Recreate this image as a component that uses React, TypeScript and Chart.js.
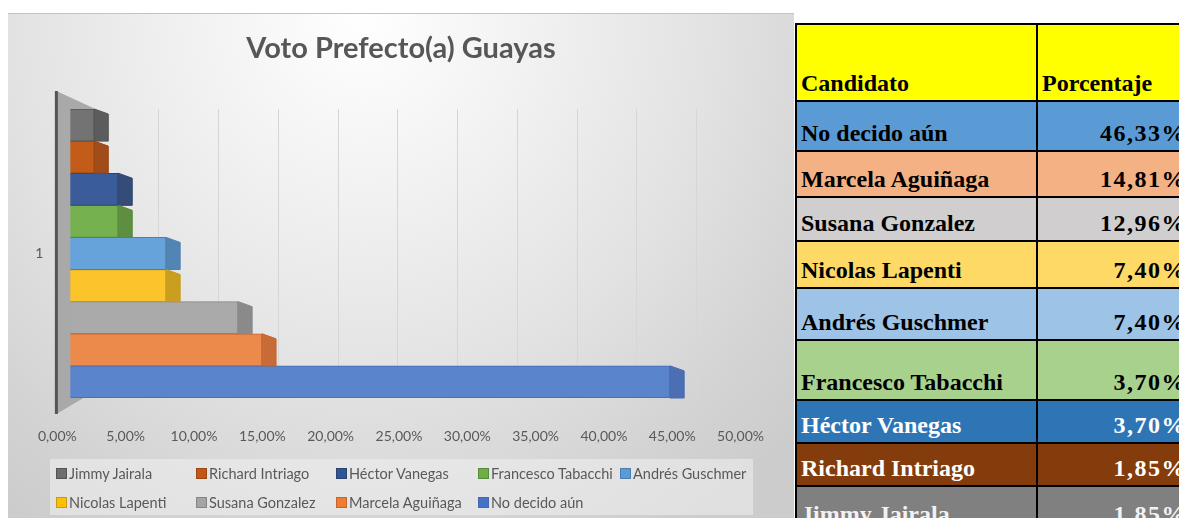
import React, { useEffect, useRef } from 'react';
import { Chart, registerables } from 'chart.js';

Chart.register(...registerables);

// ---------- data ----------
const chartTitle = 'Voto Prefecto(a) Guayas';
const categories = ['1'];
const candidates = [
  'Jimmy Jairala',
  'Richard Intriago',
  'Héctor Vanegas',
  'Francesco Tabacchi',
  'Andrés Guschmer',
  'Nicolas Lapenti',
  'Susana Gonzalez',
  'Marcela Aguiñaga',
  'No decido aún',
];
const percentages = [1.85, 1.85, 3.7, 3.7, 7.4, 7.4, 12.96, 14.81, 46.33];
const xTickValues = [0, 5, 10, 15, 20, 25, 30, 35, 40, 45, 50];
const gridValues = [5, 10, 15, 20, 25, 30, 35, 40, 45, 50];
const tableHeader = ['Candidato', 'Porcentaje'];

// ---------- styles ----------
const barColors = ['#737373', '#c25c18', '#3b5c9b', '#76b150', '#66a3da', '#fbc42a', '#aaaaaa', '#ec8a4c', '#5a84cc'];
const capColors = ['#545454', '#9c4510', '#2c4372', '#568a38', '#4a7fb0', '#c89a14', '#858585', '#c5652c', '#4568b0'];
const legendColors = ['#6f6f6f', '#c0581a', '#2f5597', '#70ad47', '#5b9bd5', '#ffc000', '#a5a5a5', '#ed7d31', '#4472c4'];
const tableFills = ['#808080', '#843c0c', '#2e75b6', '#a9d18e', '#9dc3e6', '#ffd966', '#d0cece', '#f4b183', '#5b9bd5'];
const tableText = ['#f2f2f2', '#ffffff', '#ffffff', '#000000', '#000000', '#000000', '#000000', '#000000', '#000000'];
const rowLines = [24, 101, 151, 197, 241, 288, 340, 400, 443, 486, 532];
const colLines = [796, 1037, 1210];
const legendCols = [56, 196, 336, 478, 620];
const legendRows = [473, 502];

const fmt = (v: number) => v.toFixed(2).replace('.', ',') + '%';
const FONT = 'Lato, "Open Sans", sans-serif';

const depthPlugin = {
  id: 'depth3d',
  beforeDatasetsDraw(chart: any) {
    const { ctx, chartArea } = chart;
    const L = chartArea.left;
    const T = chartArea.top;
    const B = chartArea.bottom;
    ctx.save();
    ctx.fillStyle = '#a9a9a9';
    ctx.beginPath();
    ctx.moveTo(L - 1, T - 18);
    ctx.lineTo(L + 38, T);
    ctx.lineTo(L + 38, B - 7);
    ctx.lineTo(L - 1, B + 16);
    ctx.closePath();
    ctx.fill();
    ctx.strokeStyle = '#555555';
    ctx.lineWidth = 3;
    ctx.beginPath();
    ctx.moveTo(L - 1, T - 18);
    ctx.lineTo(L - 1, B + 16);
    ctx.stroke();
    ctx.restore();
  },
  afterDatasetsDraw(chart: any) {
    const { ctx } = chart;
    const dx = 14;
    const s = 5;
    chart.data.datasets.forEach((ds: any, i: number) => {
      const meta = chart.getDatasetMeta(i);
      meta.data.forEach((bar: any) => {
        const { x, y, height } = bar.getProps(['x', 'y', 'height'], true);
        const top = y - height / 2;
        const bottom = y + height / 2;
        ctx.save();
        ctx.fillStyle = capColors[i];
        ctx.globalAlpha = 0.95;
        ctx.beginPath();
        ctx.moveTo(x, top);
        ctx.lineTo(x + dx, top + s);
        ctx.lineTo(x + dx, bottom);
        ctx.lineTo(x, bottom);
        ctx.closePath();
        ctx.fill();
        ctx.globalAlpha = 1;
        ctx.strokeStyle = capColors[i];
        ctx.lineWidth = 1;
        ctx.stroke();
        ctx.restore();
      });
    });
  },
};

export default function App() {
  const canvasRef = useRef<HTMLCanvasElement | null>(null);

  useEffect(() => {
    if (!canvasRef.current) return;
    const chart = new Chart(canvasRef.current, {
      type: 'bar',
      data: {
        labels: categories,
        datasets: candidates.map((name, i) => ({
          label: name,
          data: [percentages[i]],
          backgroundColor: barColors[i],
          borderColor: capColors[i],
          borderWidth: 1,
          categoryPercentage: 1,
          barPercentage: 1,
          xAxisID: 'x',
          yAxisID: 'y',
        })),
      },
      options: {
        indexAxis: 'y',
        responsive: true,
        maintainAspectRatio: false,
        animation: false,
        layout: { padding: { top: 0, left: 0, right: 0, bottom: 75 } },
        plugins: {
          legend: { display: false },
          tooltip: { enabled: false },
          title: {
            display: true,
            text: chartTitle,
            color: '#575757',
            font: { family: FONT, size: 29, weight: 'bold' },
            padding: { top: 16.8, bottom: 43.4 },
          },
        },
        scales: {
          y: {
            type: 'category',
            position: 'left',
            grid: { display: false, drawTicks: false },
            border: { display: false },
            ticks: { color: '#595959', font: { family: FONT, size: 14 }, padding: 14 },
            afterFit: (sc: any) => { sc.width = 49; },
          },
          yRight: {
            type: 'category',
            position: 'right',
            grid: { display: false, drawTicks: false },
            border: { display: false },
            ticks: { display: false },
            afterFit: (sc: any) => { sc.width = 51; },
          },
          x: {
            type: 'linear',
            position: 'bottom',
            min: -1,
            max: 51.77,
            grid: { display: false, drawTicks: false },
            border: { display: false },
            ticks: { display: false },
            afterFit: (sc: any) => { sc.height = 0; },
          },
          x3: {
            type: 'linear',
            position: 'bottom',
            min: -3.5,
            max: 53.67,
            grid: { color: '#d6d6d6', drawTicks: false, lineWidth: 1 },
            border: { display: false },
            ticks: { display: false },
            afterBuildTicks: (sc: any) => { sc.ticks = gridValues.map((v) => ({ value: v })); },
            afterFit: (sc: any) => { sc.height = 0; },
          },
          x2: {
            type: 'linear',
            position: 'bottom',
            min: 0,
            max: 50,
            grid: { display: false, drawTicks: false },
            border: { display: false },
            ticks: {
              color: '#595959',
              font: { family: FONT, size: 14 },
              padding: 30,
              autoSkip: false,
              maxRotation: 0,
              callback: (v: any) => fmt(Number(v)),
            },
            afterBuildTicks: (sc: any) => { sc.ticks = xTickValues.map((v) => ({ value: v })); },
            afterFit: (sc: any) => { sc.height = 46; },
          },
        },
      } as any,
      plugins: [depthPlugin],
    });
    return () => chart.destroy();
  }, []);

  const tableRows = candidates.map((c, i) => i).reverse();

  return (
    <div style={{ position: 'absolute', left: 0, top: 0, width: 1179, height: 518, overflow: 'hidden', background: '#ffffff' }}>
      <div
        style={{
          position: 'absolute',
          left: 8,
          top: 13,
          width: 786,
          height: 520,
          borderTop: '1px solid #c4c4c4',
          boxSizing: 'border-box',
          background:
            'radial-gradient(ellipse 75% 120% at 45% 0%, #ffffff 0%, #f1f1f1 30%, #e2e2e2 60%, #d3d3d3 85%, #cccccc 100%)',
        }}
      >
        <div style={{ position: 'absolute', left: 0, top: 0, width: 786, height: 505 }}>
          <canvas ref={canvasRef} />
        </div>
      </div>

      {/* legend */}
      <div
        style={{
          position: 'absolute',
          left: 50,
          top: 459,
          width: 703,
          height: 56,
          background: 'rgba(240,240,240,0.55)',
        }}
      >
        {candidates.map((name, i) => {
          const col = i % 5;
          const row = Math.floor(i / 5);
          return (
            <div
              key={name}
              style={{
                position: 'absolute',
                left: legendCols[col] - 50,
                top: legendRows[row] - 459 - 9,
                height: 18,
                display: 'flex',
                alignItems: 'center',
                whiteSpace: 'nowrap',
                fontFamily: FONT,
                fontSize: 14.5,
                color: '#595959',
              }}
            >
              <span
                style={{
                  display: 'inline-block',
                  width: 9,
                  height: 9,
                  background: legendColors[i],
                  border: '1px solid ' + capColors[i],
                  marginRight: 2,
                }}
              />
              <span>{name}</span>
            </div>
          );
        })}
      </div>

      {/* table */}
      <div style={{ position: 'absolute', left: 795, top: rowLines[0] - 1, width: 420, height: 520, background: '#000000' }}>
        {[-1, ...tableRows].map((idx, r) => {
          const top = rowLines[r] + 1 - (rowLines[0] - 1);
          const h = rowLines[r + 1] - rowLines[r] - 2;
          const isHeader = idx === -1;
          const fill = isHeader ? '#ffff00' : tableFills[idx];
          const color = isHeader ? '#000000' : tableText[idx];
          const cells = isHeader ? tableHeader : [candidates[idx], fmt(percentages[idx])];
          return cells.map((txt, c) => (
            <div
              key={r + '-' + c}
              style={{
                position: 'absolute',
                left: colLines[c] + 1 - 795,
                top,
                width: colLines[c + 1] - colLines[c] - 2,
                height: h,
                background: fill,
                color,
                display: 'flex',
                alignItems: 'flex-end',
                justifyContent: !isHeader && c === 1 ? 'flex-end' : 'flex-start',
                boxSizing: 'border-box',
                padding: !isHeader && c === 1 ? '0 22px 2px 0' : '0 0 2px 4px',
                fontFamily: '"Liberation Serif", "Times New Roman", serif',
                fontWeight: 'bold',
                fontSize: 24,
                lineHeight: 1.15,
                letterSpacing: !isHeader && c === 1 ? 1.5 : 0,
                whiteSpace: 'nowrap',
              }}
            >
              {txt}
            </div>
          ));
        })}
      </div>
    </div>
  );
}
